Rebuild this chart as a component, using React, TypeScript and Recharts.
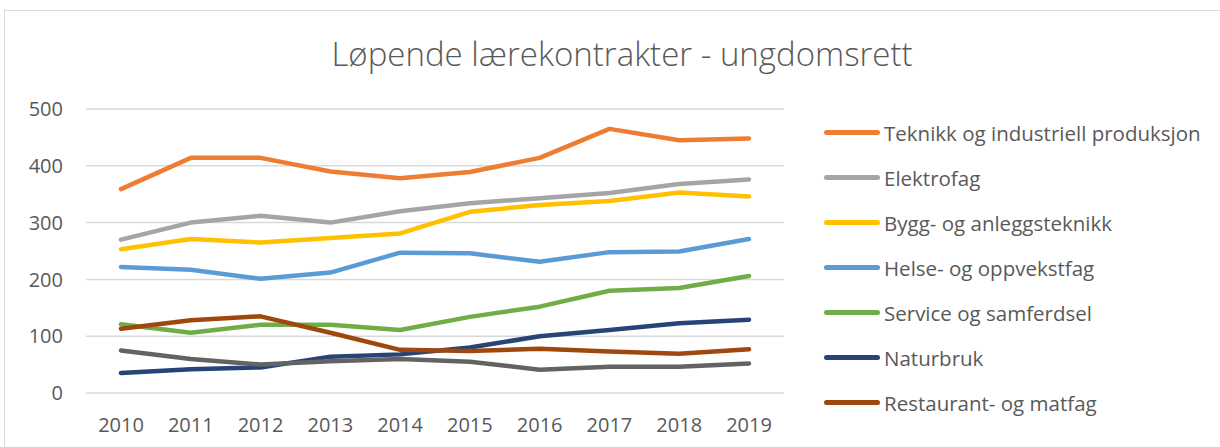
import { CartesianGrid, Line, LineChart, XAxis, YAxis } from "recharts"

const YEARS = ["2010", "2011", "2012", "2013", "2014", "2015", "2016", "2017", "2018", "2019"]

const TEKNIKK = [359, 414, 414, 390, 378, 389, 414, 465, 445, 448]
const ELEKTRO = [270, 300, 312, 300, 320, 334, 343, 352, 368, 376]
const BYGG = [253, 271, 265, 273, 281, 319, 331, 338, 353, 346]
const HELSE = [222, 217, 201, 212, 247, 246, 231, 248, 249, 271]
const SERVICE = [121, 106, 120, 120, 111, 134, 152, 180, 185, 206]
const NATURBRUK = [35, 42, 45, 64, 68, 80, 100, 111, 123, 129]
const RESTAURANT = [113, 128, 135, 106, 76, 74, 78, 73, 69, 77]
const DESIGN = [75, 60, 50, 56, 60, 55, 41, 46, 46, 52]

const Y_TICKS = [0, 100, 200, 300, 400, 500]

const SERIES = [
  { key: "teknikk", name: "Teknikk og industriell produksjon", color: "#ED7D31", values: TEKNIKK, legend: true },
  { key: "elektro", name: "Elektrofag", color: "#A5A5A5", values: ELEKTRO, legend: true },
  { key: "bygg", name: "Bygg- og anleggsteknikk", color: "#FFC000", values: BYGG, legend: true },
  { key: "helse", name: "Helse- og oppvekstfag", color: "#5B9BD5", values: HELSE, legend: true },
  { key: "service", name: "Service og samferdsel", color: "#70AD47", values: SERVICE, legend: true },
  { key: "naturbruk", name: "Naturbruk", color: "#264478", values: NATURBRUK, legend: true },
  { key: "restaurant", name: "Restaurant- og matfag", color: "#9E480E", values: RESTAURANT, legend: true },
  { key: "design", name: "Design og håndverk", color: "#636363", values: DESIGN, legend: false },
]

const FONT = "'Open Sans', sans-serif"
const TEXT = "#595959"

export default function App() {
  const data = YEARS.map((year, i) => {
    const row: Record<string, string | number> = { year }
    SERIES.forEach((s) => {
      row[s.key] = s.values[i]
    })
    return row
  })

  return (
    <div style={{ position: "absolute", left: 0, top: 0, width: 1220, height: 447, background: "#fff", fontFamily: FONT, overflow: "hidden" }}>
      <div style={{ position: "absolute", left: 4, top: 10, width: 1230, height: 450, border: "1px solid #d9d9d9" }} />
      <div style={{ position: "absolute", left: 0, right: 0, top: 31, textAlign: "center", paddingLeft: 24, fontSize: 33, color: TEXT, fontWeight: 300 }}>
        Løpende lærekontrakter - ungdomsrett
      </div>

      <div style={{ position: "absolute", left: 0, top: 0 }}>
        <LineChart width={1220} height={447} data={data} margin={{ top: 109, right: 436, bottom: 24, left: 26 }}>
          <CartesianGrid vertical={false} stroke="#d9d9d9" strokeWidth={1.5} />
          <XAxis
            dataKey="year"
            axisLine={false}
            tickLine={false}
            tickSize={0}
            tickMargin={25}
            height={30}
            padding={{ left: 35, right: 35 }}
            tick={{ fill: TEXT, fontSize: 20, fontFamily: FONT }}
          />
          <YAxis
            domain={[0, 500]}
            ticks={Y_TICKS}
            axisLine={false}
            tickLine={false}
            tickSize={0}
            tickMargin={23}
            width={60}
            tick={{ fill: TEXT, fontSize: 20, fontFamily: FONT }}
          />
          {SERIES.map((s) => (
            <Line
              key={s.key}
              dataKey={s.key}
              name={s.name}
              stroke={s.color}
              strokeWidth={4.5}
              strokeLinecap="round"
              strokeLinejoin="round"
              dot={false}
              activeDot={false}
              isAnimationActive={false}
            />
          ))}
        </LineChart>
      </div>

      <div style={{ position: "absolute", left: 824, top: 110 }}>
        {SERIES.filter((s) => s.legend).map((s) => (
          <div key={s.key} style={{ display: "flex", alignItems: "center", height: 45, color: TEXT, fontSize: 20.5, whiteSpace: "nowrap" }}>
            <span style={{ width: 56, height: 4.5, borderRadius: 3, background: s.color, marginRight: 4 }} />
            <span>{s.name}</span>
          </div>
        ))}
      </div>
    </div>
  )
}
